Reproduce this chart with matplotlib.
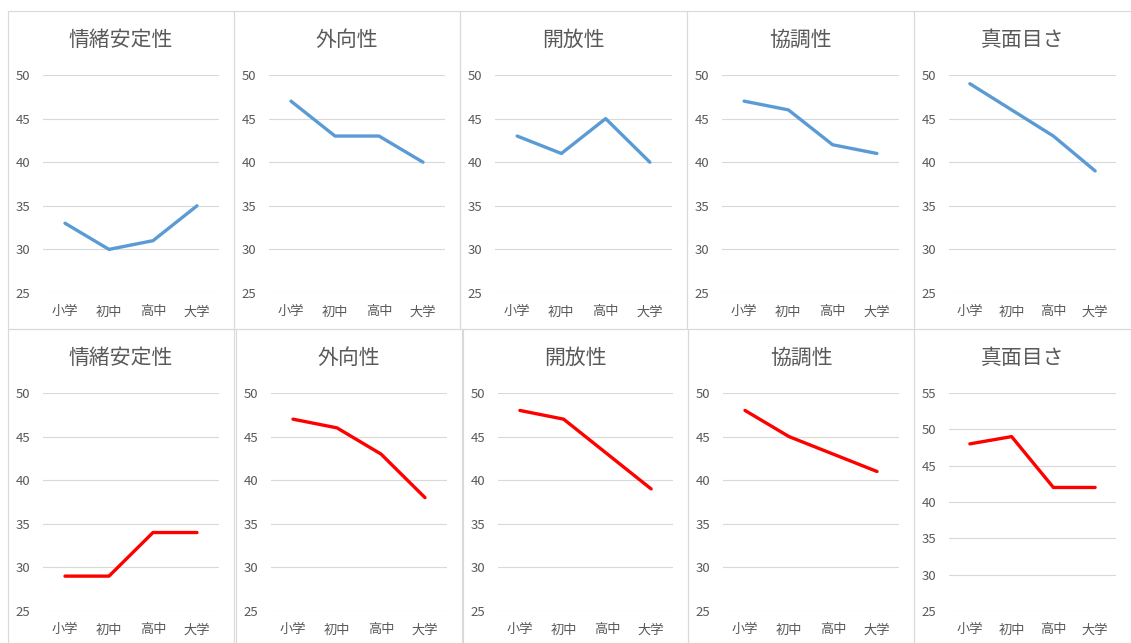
import numpy as np
import matplotlib.pyplot as plt
from matplotlib.patches import Rectangle

plt.rcParams['font.family'] = ['Noto Sans CJK JP', 'DejaVu Sans']

stages = ['小学', '初中', '高中', '大学']
traits = ['情緒安定性', '外向性', '開放性', '協調性', '真面目さ']

# top row (blue)
top_vals = [
    [33, 30, 31, 35],
    [47, 43, 43, 40],
    [43, 41, 45, 40],
    [47, 46, 42, 41],
    [49, 46, 43, 39],
]
# bottom row (red)
bottom_vals = [
    [29, 29, 34, 34],
    [47, 46, 43, 38],
    [48, 47, 43, 39],
    [48, 45, 43, 41],
    [48, 49, 42, 42],
]
bottom_ymax = [50, 50, 50, 50, 55]

W, H = 1131, 643
fig = plt.figure(figsize=(W / 100, H / 100), dpi=100)

top_x = [(8, 234), (234, 460), (460, 687), (687, 914), (914, 1131)]
bot_x = [(8, 234), (236, 462), (463, 688), (688, 914), (914, 1131)]
rows = [(11, 329, top_x, top_vals, '#5B9BD5', [50] * 5),
        (329, 643, bot_x, bottom_vals, '#FF0000', bottom_ymax)]

gray = '#595959'
for y0, y1, xs, vals, color, ymaxs in rows:
    for i, (x0, x1) in enumerate(xs):
        # panel border
        fig.patches.append(Rectangle((x0 / W, 1 - y1 / H), (x1 - x0) / W, (y1 - y0) / H,
                                     transform=fig.transFigure, fill=False,
                                     edgecolor='#D9D9D9', linewidth=0.8))
        left = x0 + 35
        right = x1 - 15
        top = y0 + 64
        bot = y0 + 282
        ax = fig.add_axes([left / W, 1 - bot / H, (right - left) / W, (bot - top) / H])
        ax.plot(range(len(stages)), vals[i], color=color, linewidth=2.4,
                solid_capstyle='round', solid_joinstyle='round')
        ax.set_xlim(-0.5, 3.5)
        ax.set_ylim(25, ymaxs[i])
        ax.set_yticks(np.arange(25, ymaxs[i] + 1, 5))
        ax.set_xticks(range(len(stages)))
        ax.set_xticklabels(stages)
        ax.grid(axis='y', color='#D9D9D9', linewidth=0.8)
        ax.set_axisbelow(True)
        for s in ax.spines.values():
            s.set_visible(False)
        ax.tick_params(length=0, colors=gray, labelsize=9.5)
        ax.tick_params(axis='y', pad=9)
        ax.tick_params(axis='x', pad=9)
        fig.text((x0 + x1) / 2 / W, 1 - (y0 + 29) / H, traits[i],
                 ha='center', va='center', fontsize=15, color=gray)

fig.savefig('out.png', dpi=100)
